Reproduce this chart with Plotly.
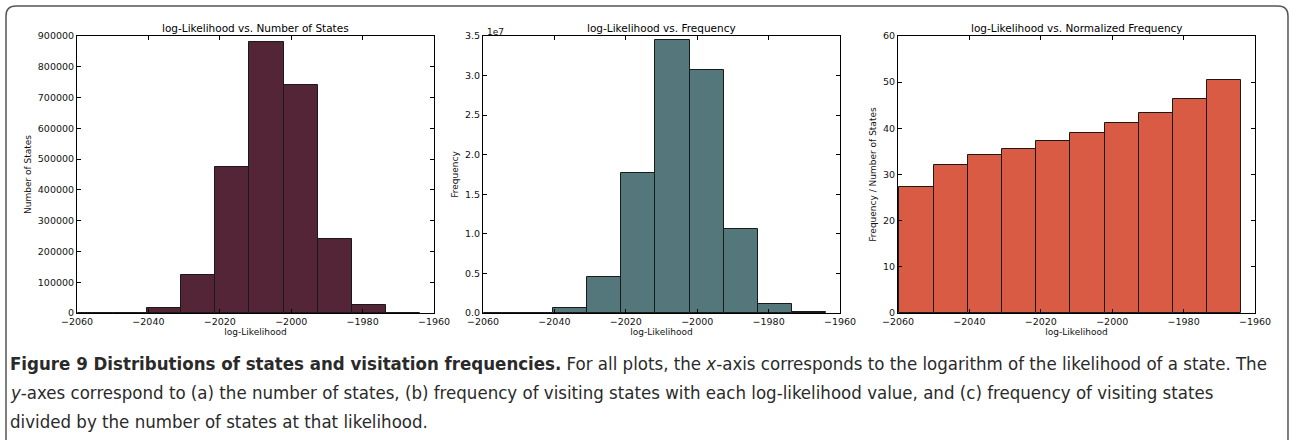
import plotly.graph_objects as go

# ---------------- data ----------------
bin_edges = [-2059.6, -2050.0, -2040.4, -2030.9, -2021.3, -2011.7,
             -2002.1, -1992.5, -1983.0, -1973.4, -1963.8]
num_states = [1200, 400, 17000, 125000, 476000, 882000, 742000, 242000, 25000, 1500]
frequency = [33000, 13000, 570000, 4510000, 17750000, 34540000, 30700000, 10630000, 1180000, 75000]
norm_freq = [27.2, 32.1, 34.3, 35.6, 37.2, 39.0, 41.2, 43.4, 46.3, 50.4]

titles = ["log-Likelihood vs. Number of States",
          "log-Likelihood vs. Frequency",
          "log-Likelihood vs. Normalized Frequency"]
y_titles = ["Number of States", "Frequency", "Frequency / Number of States"]
x_title = "log-Likelihood"
x_ticks = [-2060, -2040, -2020, -2000, -1980, -1960]
y1_ticks = [0, 100000, 200000, 300000, 400000, 500000, 600000, 700000, 800000, 900000]
y2_ticks = [0, 5e6, 1e7, 1.5e7, 2e7, 2.5e7, 3e7, 3.5e7]
y2_ticktext = ["0.0", "0.5", "1.0", "1.5", "2.0", "2.5", "3.0", "3.5"]
y3_ticks = [0, 10, 20, 30, 40, 50, 60]

colors = ["#542437", "#53777A", "#D95B43"]

caption_lines = [
    "<b>Figure 9 Distributions of states and visitation frequencies.</b> For all plots, the <i>x</i>-axis corresponds to the logarithm of the likelihood of a state. The",
    "<i>y</i>-axes correspond to (a) the number of states, (b) frequency of visiting states with each log-likelihood value, and (c) frequency of visiting states",
    "divided by the number of states at that likelihood.",
]

# ---------------- figure ----------------
W, H = 1289, 440
centers = [(a + b) / 2 for a, b in zip(bin_edges[:-1], bin_edges[1:])]
widths = [b - a for a, b in zip(bin_edges[:-1], bin_edges[1:])]

fig = go.Figure()
series = [num_states, frequency, norm_freq]
for i, vals in enumerate(series):
    sfx = "" if i == 0 else str(i + 1)
    fig.add_trace(go.Bar(
        x=centers, y=vals, width=widths,
        marker=dict(color=colors[i], line=dict(color="#1a1a1a", width=1)),
        xaxis="x" + sfx, yaxis="y" + sfx, showlegend=False,
    ))

plots_px = [(77, 434), (483, 840), (898, 1255)]
top_px, bot_px = 36, 313
tick_font = dict(family="DejaVu Sans", size=9.5, color="#111111")

layout = dict(
    width=W, height=H, margin=dict(l=0, r=0, t=0, b=0, autoexpand=False),
    paper_bgcolor="white", plot_bgcolor="white", bargap=0,
    font=dict(family="DejaVu Sans", color="#111111"),
)
y_ranges = [[0, 900000], [0, 3.5e7], [0, 60]]
y_tickvals = [y1_ticks, y2_ticks, y3_ticks]
y_ticktexts = [[str(v) for v in y1_ticks], y2_ticktext, [str(v) for v in y3_ticks]]
annotations = []
for i, (l, r) in enumerate(plots_px):
    sfx = "" if i == 0 else str(i + 1)
    common = dict(showline=True, linecolor="black", linewidth=1, mirror="ticks",
                  ticks="inside", ticklen=4, tickcolor="black", tickwidth=1,
                  showgrid=False, zeroline=False, tickfont=tick_font, automargin=False)
    layout["xaxis" + sfx] = dict(
        domain=[l / W, r / W], anchor="y" + sfx, range=[-2060, -1960],
        tickvals=x_ticks, ticktext=["\u2212" + str(abs(v)) for v in x_ticks],
        title=dict(text=x_title, font=dict(size=9, family="DejaVu Sans", color="#111111"), standoff=2),
        **common)
    layout["yaxis" + sfx] = dict(
        domain=[1 - bot_px / H, 1 - top_px / H], anchor="x" + sfx, range=y_ranges[i],
        tickvals=y_tickvals[i], ticktext=y_ticktexts[i],
        title=dict(text=y_titles[i], font=dict(size=9, family="DejaVu Sans", color="#111111"), standoff=4),
        **common)
    annotations.append(dict(
        text=titles[i], xref="paper", yref="paper", x=(l + r) / 2 / W, y=1 - 28 / H,
        showarrow=False, font=dict(size=10.5, family="DejaVu Sans", color="black"),
        xanchor="center", yanchor="middle"))

annotations.append(dict(text="1e7", xref="paper", yref="paper", x=485 / W, y=1 - 32 / H,
                        showarrow=False, xanchor="left", yanchor="middle",
                        font=dict(size=9, family="DejaVu Sans", color="#111111")))

cap_font = dict(family="DejaVu Sans Condensed, Liberation Sans Narrow, sans-serif",
                size=18.5, color="#2a2a2a")
for k, line in enumerate(caption_lines):
    annotations.append(dict(text=line, xref="paper", yref="paper", x=8 / W,
                            y=1 - (363 + 29.3 * k) / H, showarrow=False,
                            xanchor="left", yanchor="middle", font=cap_font))
layout["annotations"] = annotations

# rounded frame
def px(x, y):
    return f"{x / W:.5f},{1 - y / H:.5f}"
path = (f"M {px(6, 460)} L {px(6, 16)} Q {px(6, 6)} {px(16, 6)} "
        f"L {px(1278, 6)} Q {px(1288, 6)} {px(1288, 16)} L {px(1288, 460)}")
layout["shapes"] = [dict(type="path", path=path, xref="paper", yref="paper",
                         line=dict(color="#555555", width=1.5))]

fig.update_layout(**layout)
fig.write_html("out.html", config={"displayModeBar": False},
               post_script="document.body.style.margin='0px';")
